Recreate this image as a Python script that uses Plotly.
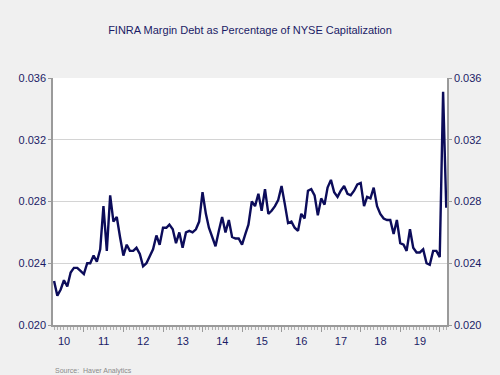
import pandas as pd
import plotly.graph_objects as go

start_month = "2010-04-01"
values = [
    # 2010 Apr-Dec
    0.02285, 0.0219, 0.0223, 0.0229, 0.0225, 0.0234, 0.0237, 0.0237, 0.0235,
    # 2011
    0.0233, 0.0240, 0.0240, 0.0245, 0.0241, 0.0249, 0.0277, 0.0248, 0.0284, 0.0267, 0.0270, 0.0257,
    # 2012
    0.0245, 0.0252, 0.0248, 0.0248, 0.0250, 0.0246, 0.0238, 0.0240, 0.0245, 0.0249, 0.0258, 0.0252,
    # 2013
    0.0263, 0.0263, 0.0265, 0.0262, 0.0253, 0.0260, 0.0250, 0.0260, 0.0261, 0.0260, 0.0262, 0.0267,
    # 2014
    0.0286, 0.0272, 0.0263, 0.0257, 0.0251, 0.0261, 0.0270, 0.0260, 0.0268, 0.0257, 0.0256, 0.0256,
    # 2015
    0.0252, 0.0259, 0.0265, 0.0280, 0.0277, 0.0285, 0.0274, 0.0288, 0.0272, 0.0274, 0.0277, 0.0281,
    # 2016
    0.0290, 0.0278, 0.0266, 0.0267, 0.0263, 0.0261, 0.0272, 0.0269, 0.0287, 0.0288, 0.0284, 0.0271,
    # 2017
    0.0282, 0.0278, 0.0289, 0.0294, 0.0286, 0.0283, 0.0287, 0.0290, 0.0285, 0.0284, 0.0287, 0.0291,
    # 2018
    0.0292, 0.0277, 0.0283, 0.0282, 0.0289, 0.0277, 0.0272, 0.0269, 0.0268, 0.0268, 0.0259, 0.0268,
    # 2019
    0.0253, 0.0252, 0.0248, 0.0262, 0.0250, 0.0247, 0.0247, 0.0249, 0.0240, 0.0239, 0.0248, 0.0248,
    # 2020 Jan-Mar
    0.0244, 0.0351, 0.0276,
]
dates = pd.date_range(start_month, periods=len(values), freq="MS")

title_text = "FINRA Margin Debt as Percentage of NYSE Capitalization"
source_text = "Source:  Haver Analytics"
y_ticks = [0.020, 0.024, 0.028, 0.032, 0.036]

navy = "#1b1b66"
axis_gray = "#9a9a9a"
font_family = "Liberation Sans, Arial, sans-serif"

fig = go.Figure()
fig.add_trace(go.Scatter(x=dates, y=values, mode="lines",
                         line=dict(color="#0c0c5a", width=2.4),
                         showlegend=False, hoverinfo="skip"))
fig.add_trace(go.Scatter(x=dates, y=values, mode="lines", yaxis="y2",
                         line=dict(color="rgba(0,0,0,0)", width=0),
                         showlegend=False, hoverinfo="skip"))

fig.update_layout(
    width=500, height=375,
    margin=dict(l=53, r=53, t=78, b=50),
    paper_bgcolor="#f0f0f0", plot_bgcolor="#ffffff",
    font=dict(family=font_family, size=11, color=navy),
    title=dict(text=title_text, x=0.5, xanchor="center", y=1 - 30 / 375,
               yanchor="middle", yref="container",
               font=dict(family=font_family, size=11, color=navy)),
    xaxis=dict(
        type="date",
        range=["2010-03-22", "2020-03-08"],
        tick0="2010-01-01", dtick="M12", tickformat="%y",
        ticklabelmode="period",
        ticks="outside", ticklen=5, tickcolor=axis_gray, tickwidth=1,
        minor=dict(dtick="M1", tick0="2010-01-01", ticks="outside", ticklen=3,
                   tickcolor="#b0b0b0", showgrid=False),
        showgrid=False, showline=True, linecolor=axis_gray, linewidth=1.5,
        zeroline=False,
        tickfont=dict(family=font_family, size=11, color=navy),
    ),
    yaxis=dict(
        range=[0.020, 0.036], tickvals=y_ticks, tickformat=".3f",
        ticks="outside", ticklen=3, tickcolor=axis_gray,
        showgrid=True, gridcolor="#d4d4d4", gridwidth=1,
        showline=True, linecolor=axis_gray, linewidth=1.5, zeroline=False,
        tickfont=dict(family=font_family, size=11, color=navy),
    ),
    yaxis2=dict(
        range=[0.020, 0.036], tickvals=y_ticks, tickformat=".3f",
        overlaying="y", side="right", matches="y",
        ticks="outside", ticklen=3, tickcolor=axis_gray,
        showgrid=False, showline=True, linecolor=axis_gray, linewidth=1.5,
        zeroline=False,
        tickfont=dict(family=font_family, size=11, color=navy),
    ),
    annotations=[dict(text=source_text, xref="paper", yref="paper",
                      x=0, y=-(371 - 325) / 247, xanchor="left", yanchor="middle",
                      showarrow=False,
                      font=dict(family=font_family, size=7, color="#8a8a8a"))],
)

fig.write_html("out.html",
               config={"displayModeBar": False},
               post_script="document.body.style.margin='0';document.body.style.padding='0';")
